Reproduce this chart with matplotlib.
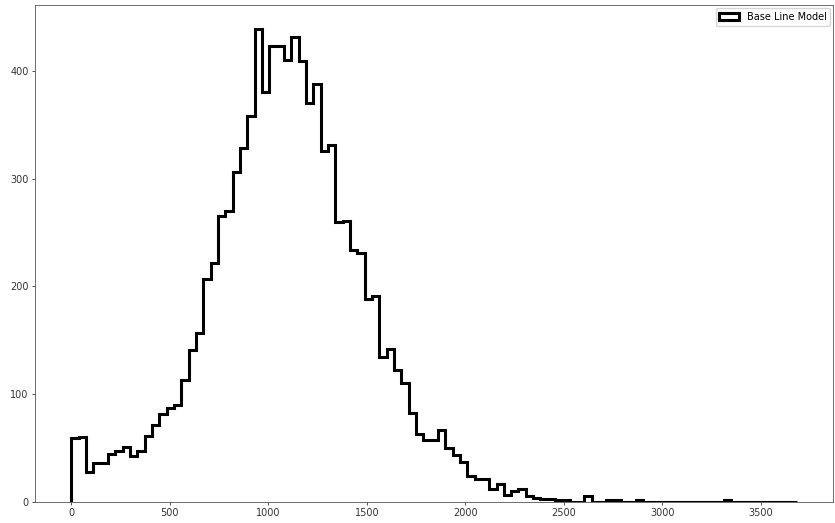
import numpy as np
import matplotlib
matplotlib.use("Agg")
import matplotlib.pyplot as plt

# counts per bin (99 equal bins from 0 to x_max)
x_max = 3683
counts = [59, 60, 27, 36, 36, 44, 47, 51, 42, 47,
          61, 71, 81, 87, 90, 113, 141, 157, 207, 222,
          265, 270, 306, 328, 358, 439, 380, 423, 423, 410,
          431, 409, 370, 388, 326, 331, 260, 261, 234, 231,
          188, 191, 134, 142, 122, 110, 82, 63, 57, 57,
          66, 50, 43, 37, 24, 21, 21, 12, 16, 6,
          10, 12, 5, 3, 2, 2, 1, 1, 0, 0,
          5, 0, 0, 1, 1, 0, 0, 1, 0, 0,
          0, 0, 0, 0, 0, 0, 0, 0, 0, 1,
          0, 0, 0, 0, 0, 0, 0, 0, 0]
label = "Base Line Model"

edges = np.linspace(0, x_max, len(counts) + 1)
centers = (edges[:-1] + edges[1:]) / 2

plt.rcParams["font.size"] = 7

fig = plt.figure(figsize=(8.35, 5.23), dpi=100)
ax = fig.add_axes([0.042, 0.041, 0.956, 0.949])

ax.hist(centers, bins=edges, weights=counts, histtype="step",
        color="black", linewidth=2.2, label=label)

ax.set_xticks([0, 500, 1000, 1500, 2000, 2500, 3000, 3500])
ax.set_yticks([0, 100, 200, 300, 400])
ax.tick_params(length=2.5, width=0.6, colors="#333333", labelsize=7, pad=2)
for s in ax.spines.values():
    s.set_linewidth(0.6)
    s.set_color("#555555")

ax.legend(loc="upper right", fontsize=7, borderaxespad=0.3)

plt.savefig("out.png", dpi=100)
